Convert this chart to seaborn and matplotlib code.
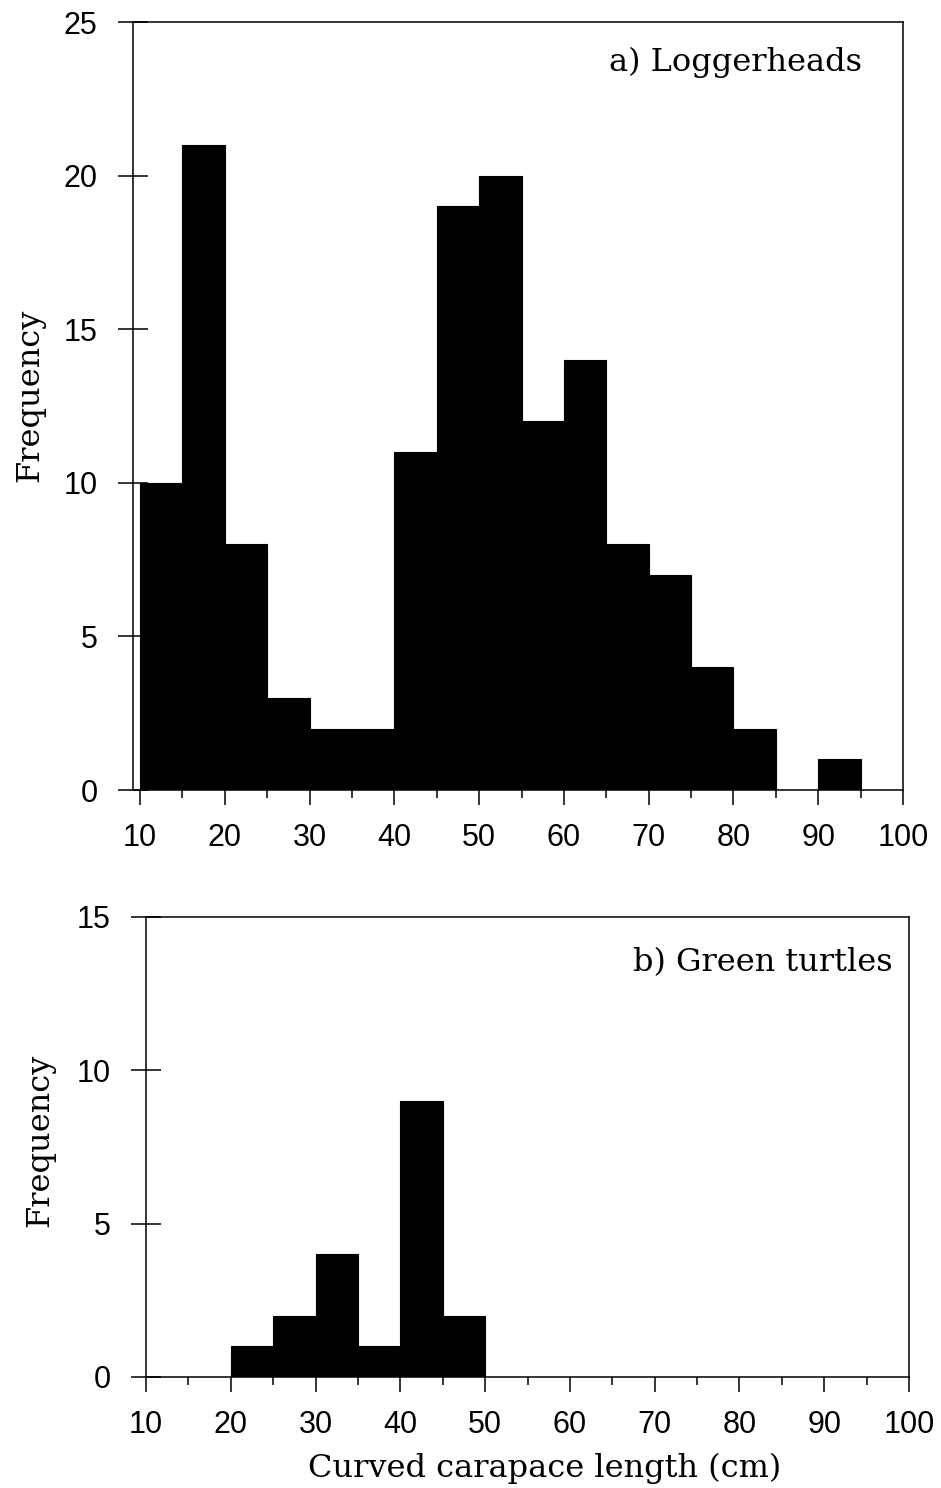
import numpy as np
import matplotlib
matplotlib.use("Agg")
import matplotlib.pyplot as plt
from matplotlib.ticker import MultipleLocator
import seaborn as sns

# ---- data ----
logger_edges = [10, 15, 20, 25, 30, 35, 40, 45, 50, 55, 60, 65, 70, 75, 80, 85, 90, 95]
logger_counts = [10, 21, 8, 3, 2, 2, 11, 19, 20, 12, 14, 8, 7, 4, 2, 0, 1]

green_edges = [20, 25, 30, 35, 40, 45, 50]
green_counts = [1, 2, 4, 1, 9, 2]

x_ticks = [10, 20, 30, 40, 50, 60, 70, 80, 90, 100]
y_ticks_a = [0, 5, 10, 15, 20, 25]
y_ticks_b = [0, 5, 10, 15]

title_a = "a) Loggerheads"
title_b = "b) Green turtles"
ylabel = "Frequency"
xlabel = "Curved carapace length (cm)"

sns.set_style("ticks")
plt.rcParams["font.family"] = ["Liberation Sans", "DejaVu Sans"]
plt.rcParams["axes.linewidth"] = 1.1
for k in ["text.color", "axes.labelcolor", "xtick.color", "ytick.color",
          "xtick.labelcolor", "ytick.labelcolor", "axes.edgecolor"]:
    plt.rcParams[k] = "black"

fig = plt.figure(figsize=(9.41, 14.88), dpi=100)
ax1 = fig.add_axes([133/941, 1-790/1488, (903-133)/941, (790-22)/1488])
ax2 = fig.add_axes([146/941, 1-1377/1488, (909-146)/941, (1377-917)/1488])

serif = ["DejaVu Serif"]
LS = 23
TS = 22

def panel(ax, edges, counts, yticks, xlim, title, tx, ty):
    sns.histplot(x=edges[:-1], weights=counts, bins=edges, color="black",
                 alpha=1, edgecolor="black", linewidth=0.8, ax=ax)
    ax.set_xlim(*xlim)
    ax.set_ylim(yticks[0], yticks[-1])
    ax.set_xticks(x_ticks)
    ax.set_yticks(yticks)
    ax.xaxis.set_minor_locator(MultipleLocator(5))
    ax.tick_params(axis="x", which="major", direction="out", length=11, width=1.1,
                   labelsize=TS, pad=13, color="black", labelcolor="black")
    ax.tick_params(axis="x", which="minor", direction="out", length=5.5, width=1.1,
                   color="black")
    ax.tick_params(axis="y", which="major", direction="inout", length=21, width=1.1,
                   labelsize=TS, pad=15, color="black", labelcolor="black")
    for s in ax.spines.values():
        s.set_visible(True)
        s.set_color("black")
    ax.set_ylabel(ylabel, fontsize=LS, family=serif, va="center", color="black")
    ax.set_xlabel("")
    ax.text(tx, ty, title, transform=ax.transAxes, ha="right", va="center",
            fontsize=LS, family=serif, color="black")

panel(ax1, logger_edges, logger_counts, y_ticks_a, (9.17, 100), title_a, 0.947, 0.948)
panel(ax2, green_edges, green_counts, y_ticks_b, (10, 100), title_b, 0.979, 0.90)

ax1.yaxis.set_label_coords(-0.134, 0.514)
ax2.yaxis.set_label_coords(-0.139, 0.515)
ax2.set_xlabel(xlabel, fontsize=LS, family=serif, va="center", color="black")
ax2.xaxis.set_label_coords(0.523, -0.198)

fig.savefig("out.png", dpi=100, facecolor="white")
